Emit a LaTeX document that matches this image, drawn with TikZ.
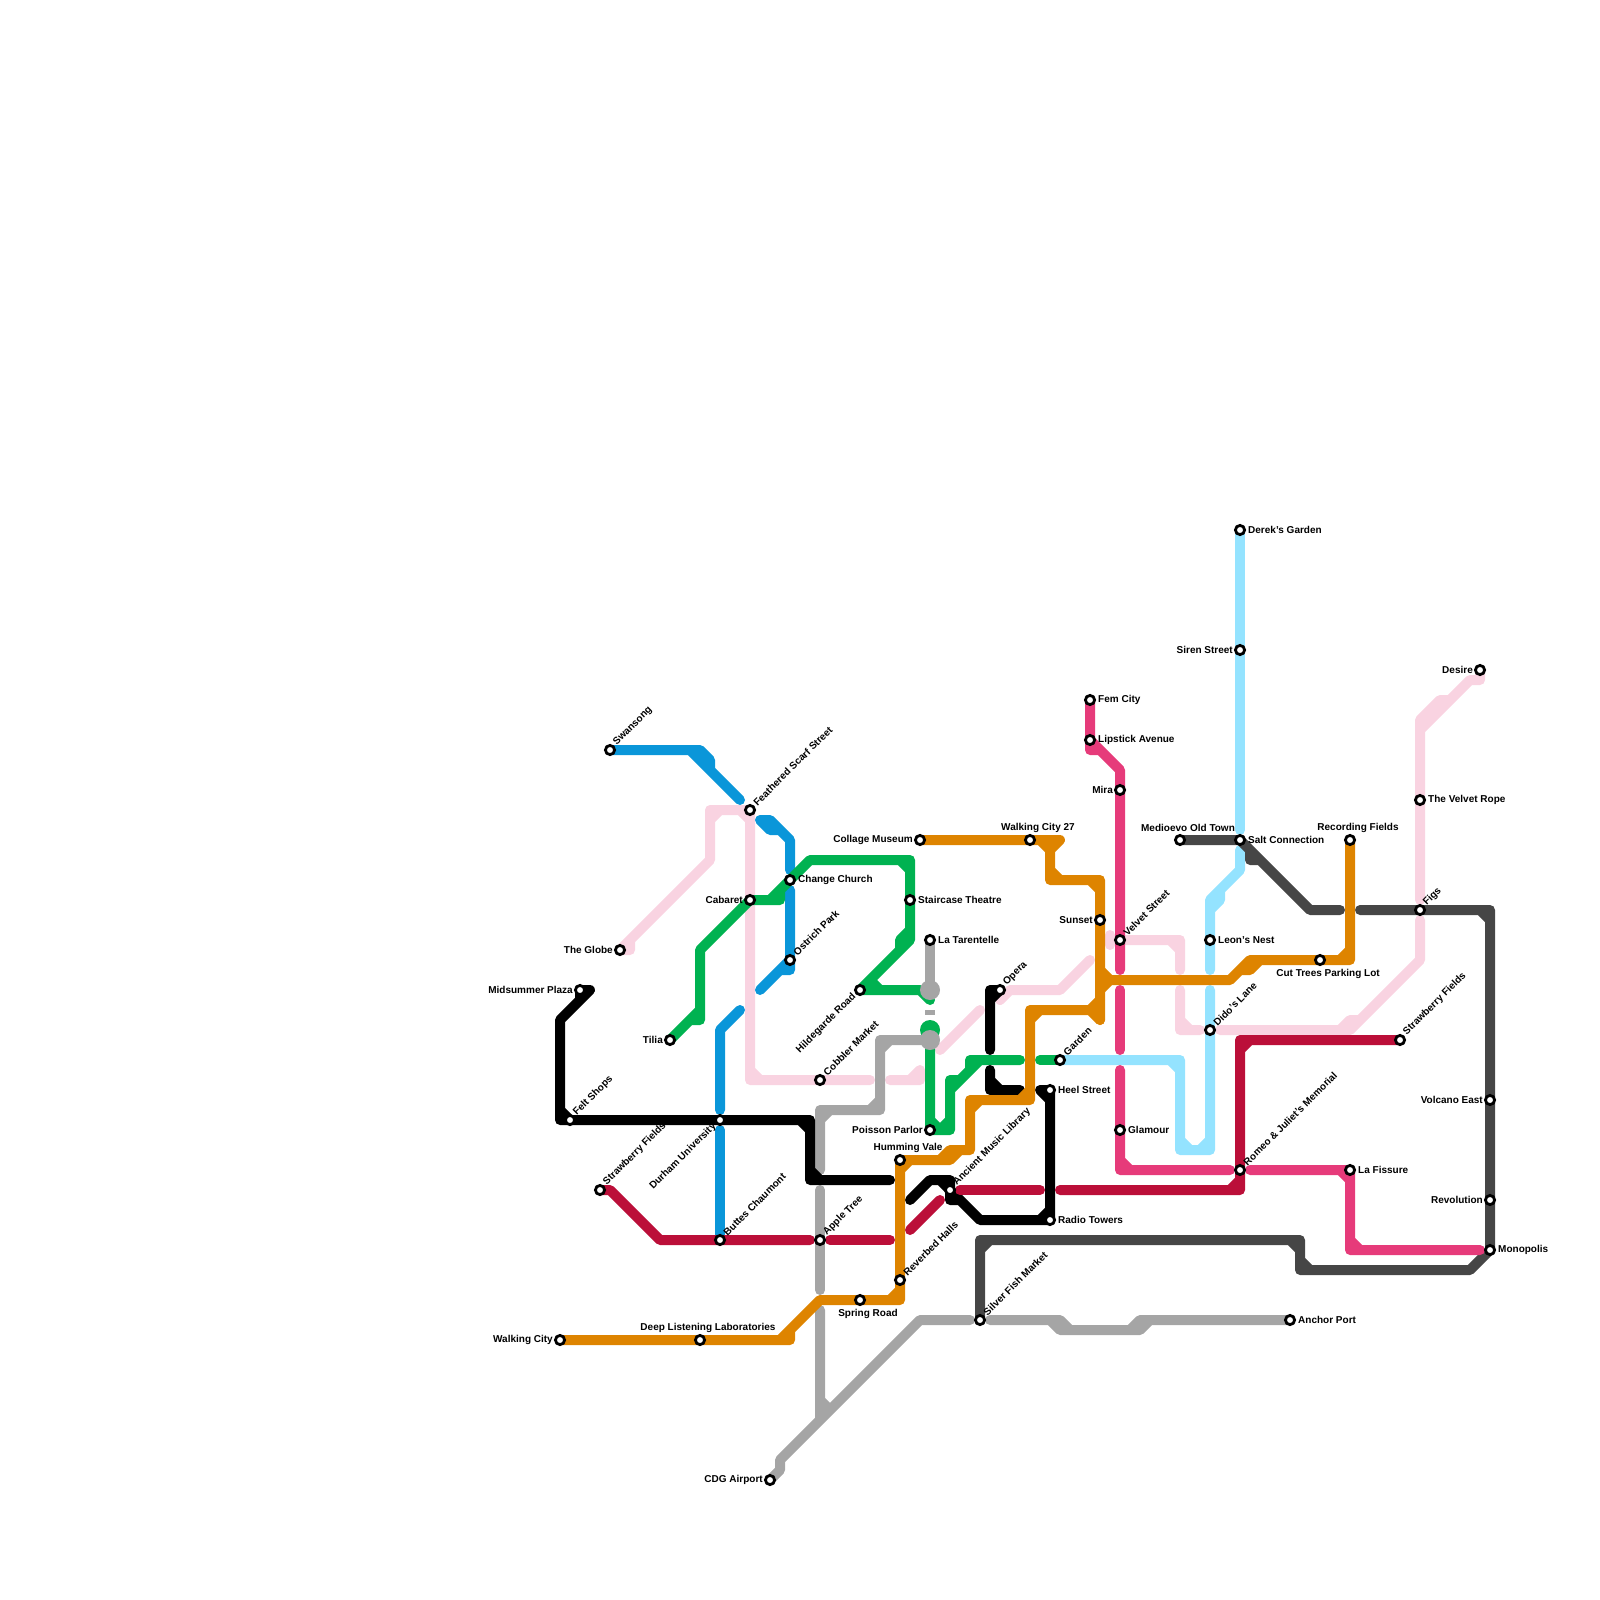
\documentclass[tikz,border=0pt]{standalone}
\usepackage{fontspec}
\setmainfont{Liberation Sans}
\pgfdeclarelayer{lines}
\pgfsetlayers{lines,main}
\definecolor{cblue}{HTML}{0A96D9}
\definecolor{cpink}{HTML}{F9D3E1}
\definecolor{cgreen}{HTML}{00B251}
\definecolor{corange}{HTML}{DE8400}
\definecolor{csky}{HTML}{94E3FF}
\definecolor{chot}{HTML}{E63B7A}
\definecolor{ccrim}{HTML}{BB0F39}
\definecolor{cdark}{HTML}{464646}
\definecolor{cgrey}{HTML}{A5A5A5}
\tikzset{
  x=1pt,y=-1pt,
  route/.style={line width=10pt,line cap=round,line join=round},
  stn/.style={circle,draw=black,fill=white,line width=2.8pt,minimum size=9.2pt,inner sep=0pt,outer sep=0pt},
  lbl/.style={font=\bfseries\fontsize{10}{10}\selectfont,inner sep=0pt,text=black},
  lr/.style={lbl,anchor=west,yshift=-1pt},
  ll/.style={lbl,anchor=east,xshift=1pt,yshift=-1pt},
  lt/.style={lbl,anchor=center,xshift=1pt,yshift=-1.5pt},
  lu/.style={lbl,anchor=west,xshift=2pt,rotate=45},
  ld/.style={lbl,anchor=east,xshift=-1.5pt,rotate=45},
}
\begin{document}
\begin{tikzpicture}
\useasboundingbox (0,0) rectangle (1600,1600);
% stations
\node[stn] (swansong) at (610,750) {};
\node[stn] (feathered) at (750,810) {};
\node[stn] (cabaret) at (750,900) {};
\node[stn] (change) at (790,880) {};
\node[stn] (ostrich) at (790,960) {};
\node[stn] (globe) at (620,950) {};
\node[stn] (midsummer) at (580,990) {};
\node[stn] (tilia) at (670,1040) {};
\node[stn] (hildegarde) at (860,990) {};
\node[stn] (cobbler) at (820,1080) {};
\node[stn] (collage) at (920,840) {};
\node[stn] (walking27) at (1030,840) {};
\node[stn] (staircase) at (910,900) {};
\node[stn] (tarentelle) at (930,940) {};
\node[stn] (opera) at (1000,990) {};
\node[stn] (sunset) at (1100,920) {};
\node[stn] (garden) at (1060,1060) {};
\node[stn] (heel) at (1050,1090) {};
\node[stn] (poisson) at (930,1130) {};
\node[stn] (velvet) at (1120,940) {};
\node[stn] (glamour) at (1120,1130) {};
\node[stn] (medioevo) at (1180,840) {};
\node[stn] (salt) at (1240,840) {};
\node[stn] (recording) at (1350,840) {};
\node[stn] (leon) at (1210,940) {};
\node[stn] (cuttrees) at (1320,960) {};
\node[stn] (dido) at (1210,1030) {};
\node[stn] (strawe) at (1400,1040) {};
\node[stn] (desire) at (1480,670) {};
\node[stn] (rope) at (1420,800) {};
\node[stn] (figs) at (1420,910) {};
\node[stn] (romeo) at (1240,1170) {};
\node[stn] (fissure) at (1350,1170) {};
\node[stn] (anchor) at (1290,1320) {};
\node[stn] (volcano) at (1490,1100) {};
\node[stn] (revolution) at (1490,1200) {};
\node[stn] (monopolis) at (1490,1250) {};
\node[stn] (humming) at (900,1160) {};
\node[stn] (ancient) at (950,1190) {};
\node[stn] (apple) at (820,1240) {};
\node[stn] (reverbed) at (900,1280) {};
\node[stn] (spring) at (860,1300) {};
\node[stn] (silver) at (980,1320) {};
\node[stn] (radio) at (1050,1220) {};
\node[stn] (felt) at (570,1120) {};
\node[stn] (durham) at (720,1120) {};
\node[stn] (straww) at (600,1190) {};
\node[stn] (buttes) at (720,1240) {};
\node[stn] (walking) at (560,1340) {};
\node[stn] (deep) at (700,1340) {};
\node[stn] (cdg) at (770,1480) {};
\node[stn] (derek) at (1240,530) {};
\node[stn] (siren) at (1240,650) {};
\node[stn] (fem) at (1090,700) {};
\node[stn] (lipstick) at (1090,740) {};
\node[stn] (mira) at (1120,790) {};
% labels
\node[lu] (t1) at (613,744) {Swansong};
\node[lu] (t2) at (753,804) {Feathered Scarf Street};
\node[ll] (t3) at (742,899) {Cabaret};
\node[lr] (t4) at (798,879) {Change Church};
\node[lu] (t5) at (793,954) {Ostrich Park};
\node[ll] (t6) at (612,949) {The Globe};
\node[ll] (t7) at (572,989) {Midsummer Plaza};
\node[ll] (t8) at (662,1039) {Tilia};
\node[ld] (t9) at (856,995) {Hildegarde Road};
\node[lu] (t10) at (823,1074) {Cobbler Market};
\node[ll] (t11) at (912,839) {Collage Museum};
\node[lt] (t12) at (1037,826) {Walking City 27};
\node[lr] (t13) at (918,899) {Staircase Theatre};
\node[lr] (t14) at (938,939) {La Tarentelle};
\node[lu] (t15) at (1003,984) {Opera};
\node[ll] (t16) at (1092,919) {Sunset};
\node[lu] (t17) at (1063,1054) {Garden};
\node[lr] (t18) at (1058,1089) {Heel Street};
\node[ll] (t19) at (922,1129) {Poisson Parlor};
\node[lu] (t20) at (1123,934) {Velvet Street};
\node[lr] (t21) at (1128,1129) {Glamour};
\node[lt] (t22) at (1187,826) {Medioevo Old Town};
\node[lr] (t23) at (1248,839) {Salt Connection};
\node[lt] (t24) at (1357,826) {Recording Fields};
\node[lr] (t25) at (1218,939) {Leon's Nest};
\node[lt] (t26) at (1327,972) {Cut Trees Parking Lot};
\node[lu] (t27) at (1213,1024) {Dido's Lane};
\node[lu] (t28) at (1403,1034) {Strawberry Fields};
\node[ll] (t29) at (1472,669) {Desire};
\node[lr] (t30) at (1428,799) {The Velvet Rope};
\node[lu] (t31) at (1423,904) {Figs};
\node[lu] (t32) at (1243,1164) {Romeo \& Juliet's Memorial};
\node[lr] (t33) at (1358,1169) {La Fissure};
\node[lr] (t34) at (1298,1319) {Anchor Port};
\node[ll] (t35) at (1482,1099) {Volcano East};
\node[ll] (t36) at (1482,1199) {Revolution};
\node[lr] (t37) at (1498,1249) {Monopolis};
\node[lt] (t38) at (907,1146) {Humming Vale};
\node[lu] (t39) at (953,1184) {Ancient Music Library};
\node[lu] (t40) at (823,1234) {Apple Tree};
\node[lu] (t41) at (903,1274) {Reverbed Halls};
\node[lt] (t42) at (867,1312) {Spring Road};
\node[lu] (t43) at (983,1314) {Silver Fish Market};
\node[lr] (t44) at (1058,1219) {Radio Towers};
\node[lu] (t45) at (573,1114) {Felt Shops};
\node[ld] (t46) at (716,1125) {Durham University};
\node[lu] (t47) at (603,1184) {Strawberry Fields};
\node[lu] (t48) at (723,1234) {Buttes Chaumont};
\node[ll] (t49) at (552,1339) {Walking City};
\node[lt] (t50) at (707,1326) {Deep Listening Laboratories};
\node[ll] (t51) at (762,1479) {CDG Airport};
\node[lr] (t52) at (1248,529) {Derek's Garden};
\node[ll] (t53) at (1232,649) {Siren Street};
\node[lr] (t54) at (1098,699) {Fem City};
\node[lr] (t55) at (1098,739) {Lipstick Avenue};
\node[ll] (t56) at (1112,789) {Mira};
\begin{pgfonlayer}{lines}
% pink
\draw[route,cpink] (globe.center) -- (630,950) -- (630,940) -- (710,860) -- (710,810) -- (feathered.center) -- (750,1080) -- (870,1080)
  (710,820) -- (720,810) (740,810) -- (750,820) (750,1070) -- (760,1080) (620,950) -- (630,940);
\draw[route,cpink] (890,1080) -- (920,1080) -- (920,1070) (910,1080) -- (920,1070);
\draw[route,cpink] (940,1050) -- (980,1010);
\draw[route,cpink] (opera.center) -- (1000,1000) -- (1010,990) -- (1060,990) -- (1090,960);
\draw[route,cpink] (1110,935) -- (1110,945) (velvet.center) -- (1180,940) -- (1180,970) (1170,940) -- (1180,950);
\draw[route,cpink] (1180,990) -- (1180,1030) -- (1200,1030) (1180,1020) -- (1190,1030);
\draw[route,cpink] (1220,1030) -- (1350,1030) -- (1420,960) -- (1420,920) (1340,1030) -- (1350,1020) -- (1360,1020);
\draw[route,cpink] (rope.center) -- (1420,900) (rope.center) -- (1420,730) -- (1470,680) -- (1480,680) -- (desire.center) (1420,730) -- (1420,720) -- (1440,700) -- (1450,700);
% sky
\draw[route,csky] (derek.center) -- (1240,830);
\draw[route,csky] (1240,850) -- (1240,870) -- (1220,890) -- (1220,900) -- (1210,910) -- (1210,970) (1220,890) -- (1210,900) -- (1210,910);
\draw[route,csky] (1210,990) -- (1210,1150) -- (1180,1150) -- (1180,1060) -- (garden.center) (1170,1060) -- (1180,1070) (1180,1140) -- (1190,1150) (1200,1150) -- (1210,1140);
% blue
\draw[route,cblue] (swansong.center) -- (700,750) -- (710,760) -- (710,770) -- (740,800) (690,750) -- (710,770);
\draw[route,cblue] (760,820) -- (770,820) -- (790,840) -- (790,870) (760,820) -- (770,830) -- (780,830) -- (790,840);
\draw[route,cblue] (790,890) -- (790,970) -- (780,970) -- (760,990) (790,960) -- (780,970);
\draw[route,cblue] (740,1010) -- (720,1030) -- (720,1110);
\draw[route,cblue] (720,1130) -- (buttes.center);
% green
\draw[route,cgreen] (tilia.center) -- (690,1020) -- (700,1020) -- (700,950) -- (cabaret.center) -- (780,900) -- (780,890) -- (810,860) -- (910,860) -- (910,940) -- (hildegarde.center) -- (920,990) -- (930,1000)
  (770,900) -- (780,890) (690,1020) -- (700,1010) (900,860) -- (910,870) (910,930) -- (900,940) -- (900,950) (870,980) -- (880,990);
\fill[cgreen] (930,1030) circle[radius=10];
\draw[route,cgreen] (930,1040) -- (poisson.center) -- (930,1130) -- (950,1130) -- (950,1090) -- (980,1060) -- (1020,1060)
  (930,1120) -- (940,1130) -- (950,1120) (950,1090) -- (950,1080) -- (960,1080) -- (970,1070) -- (970,1060) -- (980,1060);
\draw[route,cgreen] (1040,1060) -- (garden.center);
% grey
\draw[route,cgrey] (tarentelle.center) -- (930,990);
\fill[cgrey] (930,990) circle[radius=10];
\fill[cgrey] (925,1010) rectangle (935,1015);
\fill[cgrey] (930,1040) circle[radius=10];
\draw[route,cgrey] (930,1040) -- (880,1040) -- (880,1110) -- (820,1110) -- (820,1170) (880,1050) -- (890,1040) (880,1100) -- (870,1110) (820,1120) -- (830,1110);
\draw[route,cgrey] (820,1190) -- (820,1290);
\draw[route,cgrey] (820,1310) -- (820,1420) -- (920,1320) -- (970,1320) (820,1420) -- (780,1460) -- (780,1470) -- (cdg.center) (820,1400) -- (830,1410);
\draw[route,cgrey] (990,1320) -- (1060,1320) -- (1070,1330) -- (1140,1330) -- (1150,1320) -- (anchor.center) (1050,1320) -- (1060,1330) -- (1070,1330) (1130,1330) -- (1140,1320) -- (1150,1320);
% black
\draw[route,black] (midsummer.center) -- (590,990) -- (560,1020) -- (560,1120) -- (800,1120) -- (810,1120) -- (810,1180) -- (890,1180)
  (580,990) -- (580,1000) (560,1110) -- (570,1120) (800,1120) -- (810,1130) (810,1170) -- (820,1180);
\draw[route,black] (910,1200) -- (930,1180) -- (950,1180) -- (950,1200) -- (960,1200) -- (980,1220) -- (1040,1220) -- (1050,1220) -- (1050,1090) -- (1040,1090)
  (940,1180) -- (950,1190) -- (960,1200) (1040,1220) -- (1050,1210) (1040,1090) -- (1050,1100);
\draw[route,black] (opera.center) -- (990,990) -- (990,1050) (990,1000) -- (1000,990);
\draw[route,black] (990,1070) -- (990,1090) -- (1020,1090) (990,1080) -- (1000,1090);
% dark
\draw[route,cdark] (medioevo.center) -- (salt.center) -- (1310,910) -- (1340,910) (1250,850) -- (1250,860) -- (1260,860);
\draw[route,cdark] (1360,910) -- (1490,910) -- (monopolis.center) -- (1470,1270) -- (1300,1270) -- (1300,1240) -- (980,1240) -- (silver.center)
  (1480,910) -- (1490,920) (1290,1240) -- (1300,1250) (1300,1260) -- (1310,1270) (980,1250) -- (990,1240);
% hot
\draw[route,chot] (fem.center) -- (1090,750) -- (1100,750) (1090,740) -- (1120,770) -- (1120,970);
\draw[route,chot] (1120,990) -- (1120,1050);
\draw[route,chot] (1120,1070) -- (1120,1170) -- (1230,1170) (1120,1160) -- (1130,1170);
\draw[route,chot] (1250,1170) -- (1350,1170) -- (1350,1250) -- (1480,1250) (1340,1170) -- (1350,1180) (1350,1240) -- (1360,1250);
% crimson
\draw[route,ccrim] (straww.center) -- (610,1190) -- (660,1240) -- (810,1240);
\draw[route,ccrim] (830,1240) -- (890,1240);
\draw[route,ccrim] (910,1230) -- (940,1200);
\draw[route,ccrim] (960,1190) -- (1040,1190);
\draw[route,ccrim] (1060,1190) -- (1240,1190) -- (1240,1040) -- (strawe.center) (1230,1190) -- (1240,1180) (1240,1050) -- (1250,1040);
% orange
\draw[route,corange] (walking.center) -- (790,1340) -- (790,1330) -- (820,1300) -- (900,1300) -- (900,1160) -- (950,1160) -- (960,1150) -- (970,1150) -- (970,1100) -- (1030,1100) -- (1030,1010) -- (1090,1010) -- (1100,1020)
  (780,1340) -- (790,1330) (890,1300) -- (900,1290) (900,1170) -- (910,1160) (940,1160) -- (950,1150) -- (960,1150) (970,1110) -- (980,1100) (1020,1100) -- (1030,1090) (1030,1020) -- (1040,1010) (1090,1010) -- (1100,1000);
\draw[route,corange] (collage.center) -- (1060,840) -- (1050,850) -- (1050,880) -- (1100,880) -- (1100,1020) (1040,840) -- (1050,850) (1050,870) -- (1060,880) (1090,880) -- (1100,890);
\draw[route,corange] (1100,970) -- (1110,980) -- (1100,990) (1110,980) -- (1230,980) -- (1250,960) -- (1350,960) -- (recording.center) (1240,970) -- (1250,970) -- (1260,960) (1340,960) -- (1350,950);
\end{pgfonlayer}
\end{tikzpicture}
\end{document}
